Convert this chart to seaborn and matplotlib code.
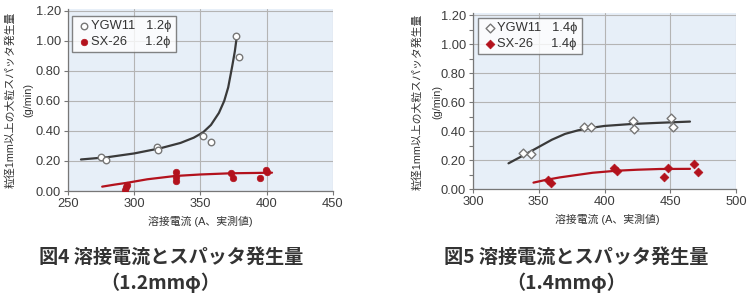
import matplotlib
matplotlib.use("Agg")
import matplotlib.pyplot as plt
import seaborn as sns
import numpy as np
import pandas as pd
from matplotlib.ticker import MultipleLocator, FormatStrFormatter

sns.set_theme(style="white")
plt.rcParams['font.family'] = ['Liberation Sans', 'Noto Sans CJK JP', 'DejaVu Sans']

# ---- Figure 4 (1.2 mm) ----
ygw12_x = [275, 279, 317, 318, 352, 358, 376.6, 379]
ygw12_y = [0.225, 0.205, 0.295, 0.273, 0.369, 0.325, 1.03, 0.89]
sx12_x = [293, 294, 295, 331.5, 331.5, 331.5, 373.3, 374.4, 395, 399.2, 400]
sx12_y = [0.005, 0.025, 0.04, 0.125, 0.095, 0.069, 0.118, 0.085, 0.085, 0.14, 0.125]
ygw12_fit_x = [260, 280, 300, 320, 335, 345, 352, 358, 364, 368, 371, 374, 376, 377.5]
ygw12_fit_y = [0.21, 0.225, 0.25, 0.285, 0.32, 0.355, 0.39, 0.44, 0.52, 0.60, 0.69, 0.83, 0.93, 1.03]
sx12_fit_x = [276, 285, 295, 310, 331, 350, 373, 390, 404]
sx12_fit_y = [0.029, 0.042, 0.055, 0.078, 0.100, 0.110, 0.118, 0.120, 0.122]

# ---- Figure 5 (1.4 mm) ----
ygw14_x = [337.8, 343.9, 384.7, 389.5, 421.7, 422.4, 450.8, 452.3]
ygw14_y = [0.246, 0.241, 0.43, 0.43, 0.471, 0.416, 0.49, 0.43]
sx14_x = [357, 359.6, 407.5, 409.8, 445.2, 448, 467.8, 470.9]
sx14_y = [0.062, 0.044, 0.147, 0.124, 0.085, 0.147, 0.172, 0.119]
ygw14_fit_x = [327, 340, 350, 360, 370, 380, 390, 400, 420, 440, 465]
ygw14_fit_y = [0.177, 0.24, 0.29, 0.34, 0.38, 0.405, 0.422, 0.435, 0.448, 0.456, 0.465]
sx14_fit_x = [346, 355, 366, 380, 391, 409, 425, 442, 465]
sx14_fit_y = [0.044, 0.062, 0.080, 0.098, 0.112, 0.126, 0.133, 0.138, 0.139]

xticks12 = [250, 300, 350, 400, 450]
xticks14 = [300, 350, 400, 450, 500]

ylabel1 = "粒径1mm以上の大粒スパッタ発生量"
ylabel2 = "(g/min)"
xlabel = "溶接電流 (A、実測値)"

GRAY_LINE = "#3a3a3a"
RED = "#b3121d"
BG = "#e7eff8"

fig = plt.figure(figsize=(7.51, 2.98), dpi=100)
ax1 = fig.add_axes([67.7/751, 1-191/298, (333-67.7)/751, (191-9)/298])
ax2 = fig.add_axes([473/751, 1-189/298, (736-473)/751, (189-13)/298])

def style(ax, xticks, ytop, minor):
    ax.set_facecolor(BG)
    ax.set_xlim(xticks[0], xticks[-1])
    ax.set_ylim(0, ytop)
    ax.set_xticks(xticks)
    ax.yaxis.set_major_locator(MultipleLocator(0.2))
    ax.yaxis.set_major_formatter(FormatStrFormatter('%.2f'))
    if minor:
        ax.yaxis.set_minor_locator(MultipleLocator(0.1))
        ax.tick_params(axis='y', which='minor', left=True, length=3, width=0.8, color='#777777')
    ax.grid(True, which='major', color='#b4b4b4', linewidth=0.8)
    ax.set_axisbelow(True)
    for s in ['top', 'right']:
        ax.spines[s].set_visible(False)
    for s in ['left', 'bottom']:
        ax.spines[s].set_color('#777777')
        ax.spines[s].set_linewidth(0.9)
    ax.tick_params(axis='both', which='major', length=3, width=0.8, color='#777777',
                   labelsize=9.3, labelcolor='#3c3c3c', pad=2, left=True, bottom=True)
    ax.set_xlabel("")
    ax.set_ylabel("")

# Figure 4
sns.lineplot(x=ygw12_fit_x, y=ygw12_fit_y, ax=ax1, color=GRAY_LINE, linewidth=1.6, sort=False)
sns.lineplot(x=sx12_fit_x, y=sx12_fit_y, ax=ax1, color=RED, linewidth=1.6, sort=False)
sns.scatterplot(x=ygw12_x, y=ygw12_y, ax=ax1, marker='o', s=22, facecolor='white',
                edgecolor='#777777', linewidth=1.0, zorder=3, label="YGW11   1.2ϕ")
sns.scatterplot(x=sx12_x, y=sx12_y, ax=ax1, marker='o', s=22, color=RED,
                edgecolor=RED, linewidth=0.5, zorder=3, label="SX-26     1.2ϕ")
style(ax1, xticks12, 1.212, False)

# Figure 5
sns.lineplot(x=ygw14_fit_x, y=ygw14_fit_y, ax=ax2, color=GRAY_LINE, linewidth=1.6, sort=False)
sns.lineplot(x=sx14_fit_x, y=sx14_fit_y, ax=ax2, color=RED, linewidth=1.6, sort=False)
sns.scatterplot(x=ygw14_x, y=ygw14_y, ax=ax2, marker='D', s=20, facecolor='white',
                edgecolor='#777777', linewidth=1.0, zorder=3, label="YGW11   1.4ϕ")
sns.scatterplot(x=sx14_x, y=sx14_y, ax=ax2, marker='D', s=20, color=RED,
                edgecolor=RED, linewidth=0.5, zorder=3, label="SX-26     1.4ϕ")
style(ax2, xticks14, 1.214, True)

for ax, anchor in [(ax1, (72/751, 1-16/298)), (ax2, (478/751, 1-18/298))]:
    leg = ax.legend(loc='upper left', bbox_to_anchor=anchor, bbox_transform=fig.transFigure,
                    frameon=True, fancybox=False, fontsize=9.3, handletextpad=0.0,
                    handlelength=1.2, borderpad=0.3, labelspacing=0.35, borderaxespad=0)
    leg.get_frame().set_edgecolor('#666666')
    leg.get_frame().set_linewidth(1.0)
    leg.get_frame().set_facecolor('white')
    for t in leg.get_texts():
        t.set_color('#333333')

# axis labels
lab_kw = dict(rotation=90, ha='center', va='center', fontsize=7.8, color='#333333')
fig.text(10/751, 1-100/298, ylabel1, **lab_kw)
fig.text(28/751, 1-100/298, ylabel2, **lab_kw)
fig.text(417/751, 1-102/298, ylabel1, **lab_kw)
fig.text(437/751, 1-102/298, ylabel2, **lab_kw)
fig.text(200/751, 1-221/298, xlabel, ha='center', va='center', fontsize=7.8, color='#333333')
fig.text(607/751, 1-219/298, xlabel, ha='center', va='center', fontsize=7.8, color='#333333')

# captions
cap_kw = dict(ha='center', va='center', fontsize=13.8, fontweight='bold', color='#333333',
              family=['Noto Sans CJK JP', 'DejaVu Sans'])
fig.text(171/751, 1-257/298, "図4 溶接電流とスパッタ発生量", **cap_kw)
fig.text(160/751, 1-283/298, "（1.2mmφ）", **cap_kw)
fig.text(576/751, 1-257/298, "図5 溶接電流とスパッタ発生量", **cap_kw)
fig.text(566/751, 1-283/298, "（1.4mmφ）", **cap_kw)

fig.savefig("out.png", dpi=100)
